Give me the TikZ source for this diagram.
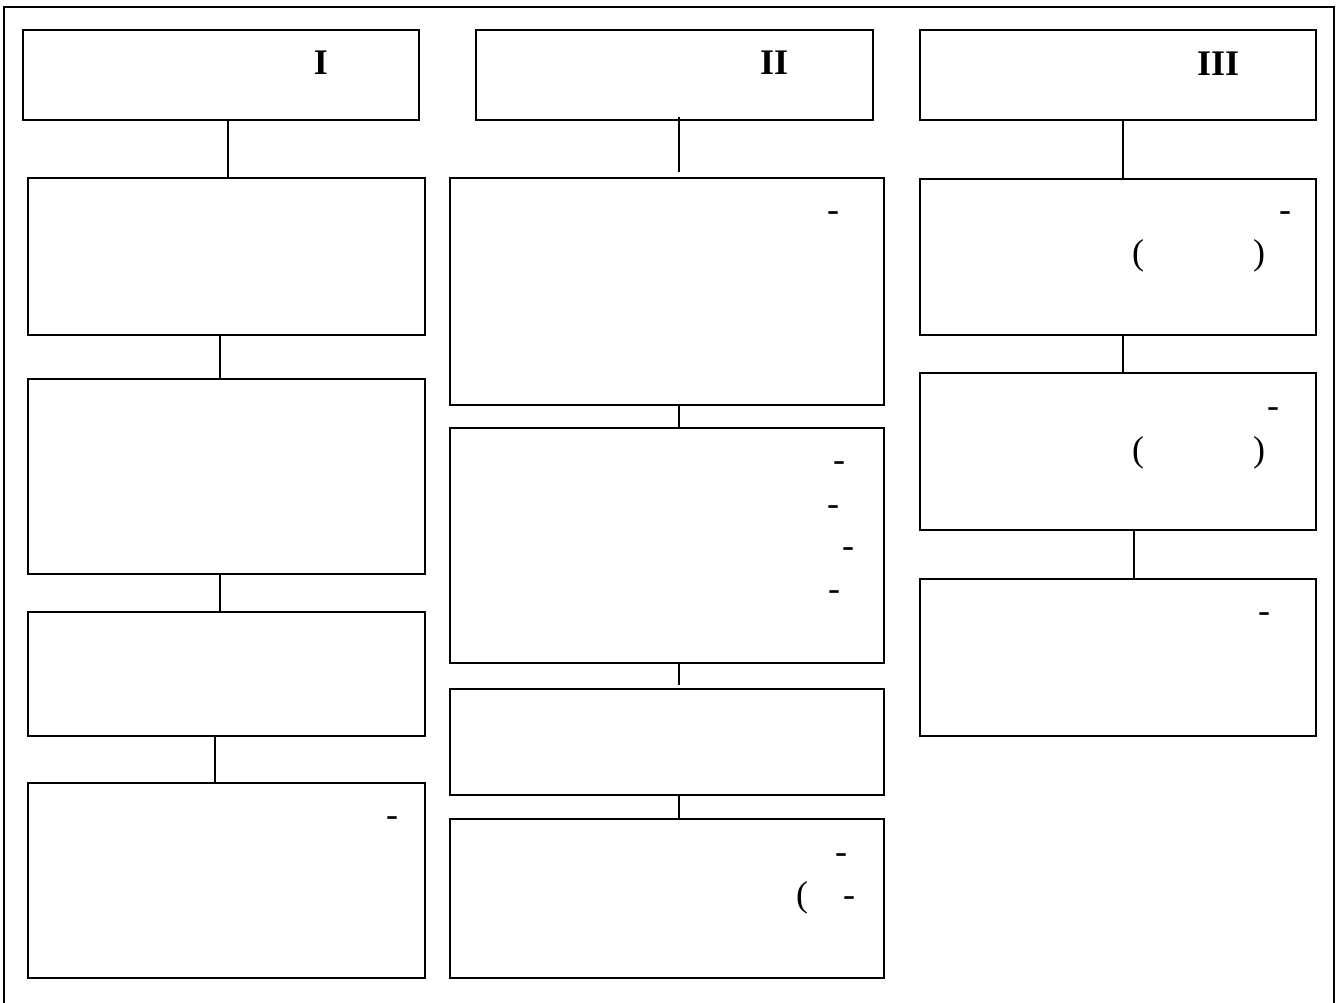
\documentclass[tikz,border=0pt]{standalone}
\usepackage{fontspec}
\setmainfont{Liberation Serif}
\usetikzlibrary{calc}
\begin{document}
\begin{tikzpicture}[x=1pt,y=-1pt,
  box/.style={draw, line width=1.6pt, rectangle, inner sep=0pt, anchor=north west},
  link/.style={line width=1.6pt},
  txt/.style={inner sep=0pt, anchor=base, font=\fontsize{36}{43}\selectfont},
  hd/.style={inner sep=0pt, anchor=base, font=\fontsize{36}{43}\selectfont\bfseries}]
\useasboundingbox (0,0) rectangle (1343,1003);
% outer frame
\draw[line width=1.5pt] (4,1003) -- (4,7) -- (1334,7) -- (1334,1003);

% column I
\node[box, minimum width=396, minimum height=90] (h1) at (22,29) {};
\node[box, minimum width=397, minimum height=157] (a1) at (27,177) {};
\node[box, minimum width=397, minimum height=195] (a2) at (27,378) {};
\node[box, minimum width=397, minimum height=124] (a3) at (27,611) {};
\node[box, minimum width=397, minimum height=195] (a4) at (27,782) {};

% column II
\node[box, minimum width=397, minimum height=90] (h2) at (475,29) {};
\node[box, minimum width=434, minimum height=227] (b1) at (449,177) {};
\node[box, minimum width=434, minimum height=235] (b2) at (449,427) {};
\node[box, minimum width=434, minimum height=106] (b3) at (449,688) {};
\node[box, minimum width=434, minimum height=159] (b4) at (449,818) {};

% column III
\node[box, minimum width=396, minimum height=90] (h3) at (919,29) {};
\node[box, minimum width=396, minimum height=156] (c1) at (919,178) {};
\node[box, minimum width=396, minimum height=157] (c2) at (919,372) {};
\node[box, minimum width=396, minimum height=157] (c3) at (919,578) {};

% connector x positions
\coordinate (xa) at (228,0);
\coordinate (xb) at (220,0);
\coordinate (xc) at (215,0);
\coordinate (xd) at (679,0);
\coordinate (xe) at (1123,0);
\coordinate (xf) at (1134,0);

\draw[link] (h1.south -| xa) -- (a1.north -| xa);
\draw[link] (a1.south -| xb) -- (a2.north -| xb);
\draw[link] (a2.south -| xb) -- (a3.north -| xb);
\draw[link] (a3.south -| xc) -- (a4.north -| xc);

\draw[link] ($(h2.south -| xd)+(0,-4)$) -- ($(b1.north -| xd)+(0,-5)$);
\draw[link] (b1.south -| xd) -- (b2.north -| xd);
\draw[link] (b2.south -| xd) -- ($(b3.north -| xd)+(0,-3)$);
\draw[link] (b3.south -| xd) -- (b4.north -| xd);

\draw[link] (h3.south -| xe) -- (c1.north -| xe);
\draw[link] (c1.south -| xe) -- (c2.north -| xe);
\draw[link] (c2.south -| xf) -- (c3.north -| xf);

% texts
\node[hd] (t1) at (321,75) {I};
\node[hd] (t2) at (774,75) {II};
\node[hd] (t3) at (1218,76) {III};

\node[txt] (ta4) at (392,826) {-};

\node[txt] (tb1) at (833,221) {-};
\node[txt] (tb2a) at (839,471) {-};
\node[txt] (tb2b) at (833,515) {-};
\node[txt] (tb2c) at (848,557) {-};
\node[txt] (tb2d) at (834,600) {-};
\node[txt] (tb4a) at (841,863) {-};
\node[txt] (tb4b) at (802,906) {(};
\node[txt] (tb4c) at (849,906) {-};

\node[txt] (tc1a) at (1285,222) {-};
\node[txt] (tc1b) at (1138,264) {(};
\node[txt] (tc1c) at (1259,264) {)};
\node[txt] (tc2a) at (1273,417) {-};
\node[txt] (tc2b) at (1138,461) {(};
\node[txt] (tc2c) at (1259,461) {)};
\node[txt] (tc3a) at (1264,622) {-};
\end{tikzpicture}
\end{document}
